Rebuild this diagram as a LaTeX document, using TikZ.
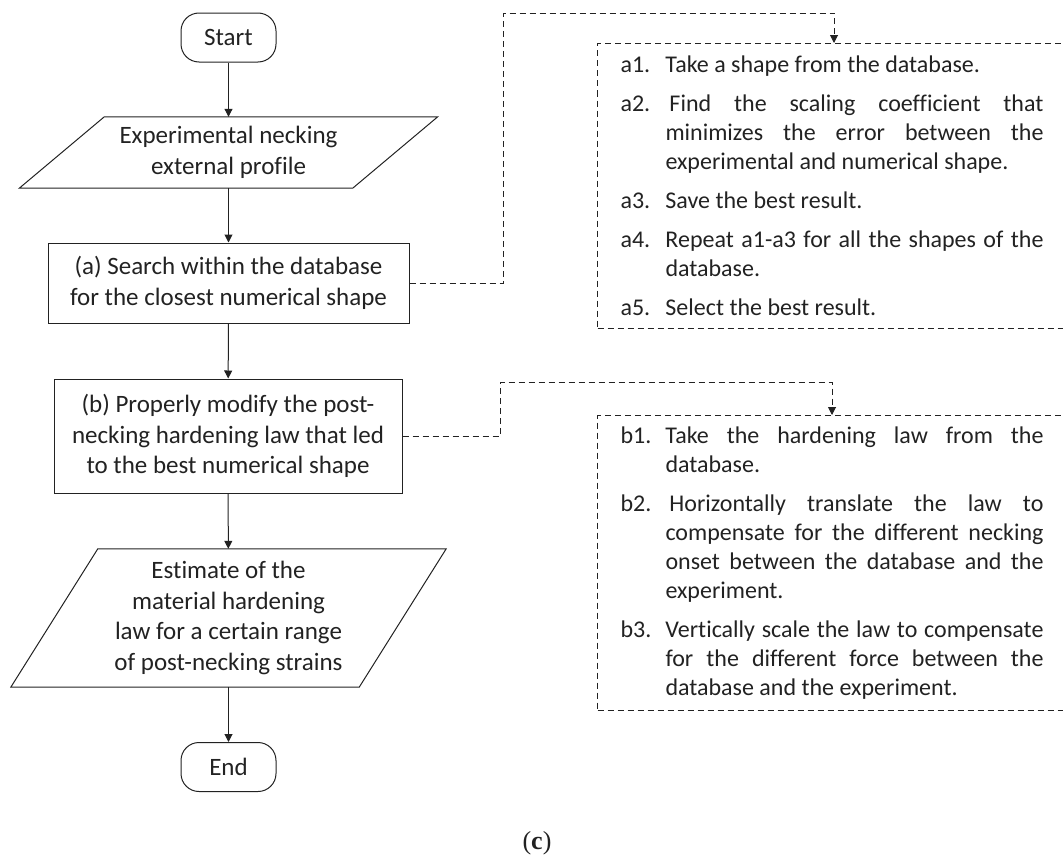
\documentclass[tikz,border=0pt]{standalone}
\usepackage{fontspec}
\setmainfont{Carlito}[Ligatures=NoCommon]
\newfontfamily\capfont{Liberation Serif}
\usepackage{tikz}
\usetikzlibrary{arrows.meta,calc}

\definecolor{inkgray}{HTML}{222222}

% one item of a step list: label, then hanging text
\newcommand{\stepitem}[2]{\hangindent=45pt\hangafter=1\noindent\makebox[45pt][l]{#1}#2\par}

\tikzset{
  flowbox/.style={draw=inkgray, line width=1pt, align=center, inner sep=0pt,
    font=\fontsize{25}{30.5}\selectfont},
  terminal/.style={flowbox, rounded corners=18pt, minimum width=95pt, minimum height=49pt},
  iobox/.style={align=center, inner sep=0pt, font=\fontsize{25}{30.5}\selectfont},
  listbox/.style={draw=inkgray, line width=1pt, dash pattern=on 6pt off 4pt,
    anchor=north west, text width=423pt, inner xsep=23pt, inner ysep=0pt,
    align=justify, font=\fontsize{24}{29}\selectfont,
    execute at begin node={\setlength{\parskip}{10pt}}},
  flowline/.style={draw=inkgray, line width=1pt, ->},
  dashline/.style={draw=inkgray, line width=1pt, dash pattern=on 6pt off 4pt, ->}
}

\begin{document}
\begin{tikzpicture}[x=1pt, y=-1pt, >={Triangle[width=8pt,length=8pt]}, text=inkgray]
  \clip (0,0) rectangle (1063,862);
  \useasboundingbox (0,0) rectangle (1063,862);

  % Main flow
  \node[terminal] (start) at (228.5,37.5) {Start};
  \node[iobox, minimum width=333pt, minimum height=71pt] (profile) at (228.5,152.5)
    {Experimental necking\\external profile};
  \node[flowbox, minimum width=361pt, minimum height=80pt] (search) at (228.5,283)
    {(a) Search within the database\\for the closest numerical shape};
  \node[flowbox, minimum width=348pt, minimum height=114pt] (modify) at (228,436)
    {(b) Properly modify the post-\\necking hardening law that led\\to the best numerical shape};
  \node[iobox, minimum width=348pt, minimum height=138pt] (estimate) at (228.5,618)
    {Estimate of the\\material hardening\\law for a certain range\\of post-necking strains};
  \node[terminal] (end) at (228.5,767) {End};

  % Parallelograms
  \draw[inkgray, line width=1pt] ([xshift=42.5pt]profile.north west) -- ([xshift=42.5pt]profile.north east)
    -- ([xshift=-42.5pt]profile.south east) -- ([xshift=-42.5pt]profile.south west) -- cycle;
  \draw[inkgray, line width=1pt] ([xshift=43.5pt]estimate.north west) -- ([xshift=43.5pt]estimate.north east)
    -- ([xshift=-43.5pt]estimate.south east) -- ([xshift=-43.5pt]estimate.south west) -- cycle;

  % Arrows
  \draw[flowline] (start) -- (profile);
  \draw[flowline] (profile) -- (search);
  \draw[flowline] (search) -- (modify);
  \draw[flowline] (modify) -- (estimate);
  \draw[flowline] (estimate) -- (end);

  % Detail lists
  \node[listbox, minimum height=285pt] (listA) at (597,43) {%
    \stepitem{a1.}{Take a shape from the database.}%
    \stepitem{a2.}{\,Find the scaling coefficient that\linebreak minimizes the error between the\linebreak experimental and numerical shape.}%
    \stepitem{a3.}{Save the best result.}%
    \stepitem{a4.}{Repeat a1-a3 for all the shapes of the\linebreak database.}%
    \stepitem{a5.}{Select the best result.}};
  \node[listbox, minimum height=295pt] (listB) at (597,415) {%
    \stepitem{b1.}{Take the hardening law from the\linebreak database.}%
    \stepitem{b2.}{\,Horizontally translate the law to\linebreak compensate for the different necking\linebreak onset between the database and the\linebreak experiment.}%
    \stepitem{b3.}{Vertically scale the law to compensate\linebreak for the different force between the\linebreak database and the experiment.}};

  % Dashed links
  \coordinate (upA) at (503,13);
  \coordinate (dropA) at (834,13);
  \coordinate (upB) at (500,382);
  \coordinate (dropB) at (832,382);
  \draw[dashline] (search.east) -| (upA) -- (dropA) -- (dropA |- listA.north);
  \draw[dashline] (modify.east) -| (upB) -- (dropB) -- (dropB |- listB.north);

  % Caption
  \node[font=\capfont\fontsize{26}{30}\selectfont] (cap) at (537,843) {(\textbf{c})};
\end{tikzpicture}
\end{document}
